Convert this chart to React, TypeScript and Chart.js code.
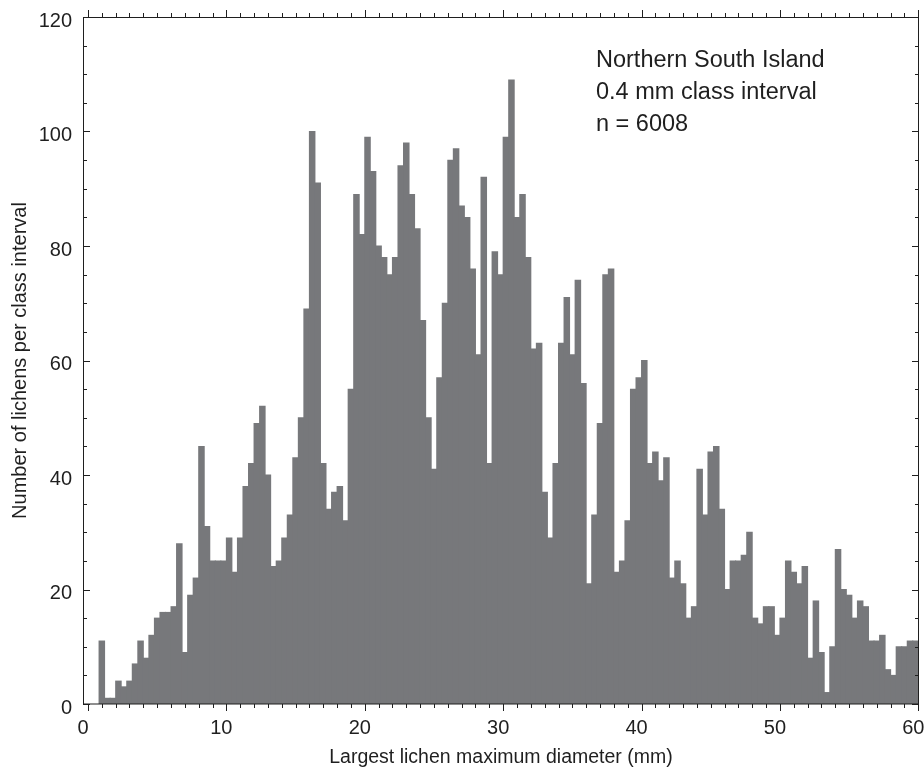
import { useEffect, useRef } from 'react'
import { Chart, registerables } from 'chart.js'

Chart.register(...registerables)

const FONT_FAMILY = '"Liberation Sans", Arial, Helvetica, sans-serif'
const BAR_COLOR = '#77787b'
const INK = '#1f1f1f'

// histogram classes (mm)
const CLASS_START = 0.8
const CLASS_INTERVAL = 0.4

// lichens per 0.4 mm class
const COUNTS = [
  11, 1, 1, 4, 3, 4, 7, 11, 8, 12,
  15, 16, 16, 17, 28, 9, 19, 22, 45, 31,
  25, 25, 25, 29, 23, 29, 38, 42, 49, 52,
  40, 24, 25, 29, 33, 43, 50, 69, 100, 91,
  42, 34, 37, 38, 32, 55, 89, 82, 99, 93,
  80, 78, 75, 78, 94, 98, 89, 83, 67, 50,
  41, 57, 70, 95, 97, 87, 85, 76, 61, 92,
  42, 79, 75, 99, 109, 85, 89, 78, 62, 63,
  37, 29, 42, 63, 71, 61, 74, 56, 21, 33,
  49, 75, 76, 23, 25, 32, 55, 57, 60, 42,
  44, 39, 43, 22, 25, 21, 15, 17, 41, 33,
  44, 45, 34, 20, 25, 25, 26, 30, 15, 14,
  17, 17, 12, 15, 25, 23, 21, 24, 8, 18,
  9, 2, 10, 27, 20, 19, 15, 18, 17, 11,
  11, 12, 6, 5, 10, 10, 11, 11,
]

const X_TICKS = [0, 10, 20, 30, 40, 50, 60]
const Y_TICKS = [0, 20, 40, 60, 80, 100, 120]
const X_MINOR_STEP = 1
const Y_MINOR_STEP = 5

const X_TITLE = 'Largest lichen maximum diameter (mm)'
const Y_TITLE = 'Number of lichens per class interval'
const NOTE_LINES = ['Northern South Island', '0.4 mm class interval', 'n = 6008']

const frameAndTicks = {
  id: 'frameAndTicks',
  afterDatasetsDraw(chart: any) {
    const { ctx, chartArea, scales } = chart
    const { left, right, top, bottom } = chartArea
    const x = scales.x
    const y = scales.y
    ctx.save()
    ctx.strokeStyle = INK
    ctx.lineWidth = 1
    ctx.beginPath()
    // x ticks point outward, top and bottom
    for (let v = X_TICKS[0]; v <= X_TICKS[X_TICKS.length - 1]; v += X_MINOR_STEP) {
      const px = Math.round(x.getPixelForValue(v)) + 0.5
      const len = v % 10 === 0 ? 7 : 4
      ctx.moveTo(px, bottom)
      ctx.lineTo(px, bottom + len)
      ctx.moveTo(px, top)
      ctx.lineTo(px, top - len)
    }
    // y ticks point inward, left and right
    for (let v = Y_TICKS[0]; v <= Y_TICKS[Y_TICKS.length - 1]; v += Y_MINOR_STEP) {
      const py = Math.round(y.getPixelForValue(v)) + 0.5
      const len = v % 20 === 0 ? 7 : 4
      ctx.moveTo(left, py)
      ctx.lineTo(left + len, py)
      ctx.moveTo(right, py)
      ctx.lineTo(right - len, py)
    }
    ctx.stroke()
    ctx.strokeRect(left + 0.5, top + 0.5, right - left - 1, bottom - top - 0.5)

    // annotation block
    ctx.fillStyle = INK
    ctx.font = `23.5px ${FONT_FAMILY}`
    ctx.textAlign = 'left'
    ctx.textBaseline = 'alphabetic'
    NOTE_LINES.forEach((line, i) => {
      ctx.fillText(line, 596, 67 + i * 32.2)
    })
    ctx.restore()
  },
}

export default function App() {
  const canvasRef = useRef<HTMLCanvasElement>(null)

  useEffect(() => {
    document.body.style.margin = '0'
    if (!canvasRef.current) return

    const chart = new Chart(canvasRef.current, {
      type: 'bar',
      data: {
        datasets: [
          {
            data: COUNTS.map((count, i) => ({ x: CLASS_START + CLASS_INTERVAL * (i + 0.5), y: count })),
            backgroundColor: BAR_COLOR,
            borderWidth: 0,
            inflateAmount: 0.5,
            barPercentage: 1,
            categoryPercentage: 1,
          },
        ],
      },
      options: {
        responsive: false,
        animation: false,
        events: [],
        layout: { padding: { top: 17, right: 5, bottom: 0, left: 0 } },
        plugins: {
          legend: { display: false },
          tooltip: { enabled: false },
        },
        scales: {
          x: {
            type: 'linear',
            min: -0.36,
            max: 60.05,
            offset: false,
            grid: { display: false, drawTicks: false },
            border: { display: false },
            ticks: {
              color: INK,
              font: { family: FONT_FAMILY, size: 20 },
              padding: 12,
              labelOffset: -5,
              maxRotation: 0,
            },
            title: {
              display: true,
              text: X_TITLE,
              color: INK,
              font: { family: FONT_FAMILY, size: 19.5 },
              padding: { top: 0, bottom: 0 },
            },
            afterBuildTicks: (scale: any) => {
              scale.ticks = X_TICKS.map((value) => ({ value }))
            },
            afterFit: (scale: any) => {
              scale.height = 65
              scale.paddingLeft = 0
              scale.paddingRight = 0
            },
          },
          y: {
            min: 0,
            max: 120,
            grid: { display: false, drawTicks: false },
            border: { display: false },
            ticks: {
              color: INK,
              font: { family: FONT_FAMILY, size: 20 },
              padding: 11,
              labelOffset: 4,
            },
            title: {
              display: true,
              text: Y_TITLE,
              color: INK,
              font: { family: FONT_FAMILY, size: 20 },
              padding: { top: 8, bottom: 0 },
            },
            afterBuildTicks: (scale: any) => {
              scale.ticks = Y_TICKS.map((value) => ({ value }))
            },
            afterFit: (scale: any) => {
              scale.width = 83
              scale.paddingTop = 0
              scale.paddingBottom = 0
            },
          },
        },
      },
      plugins: [frameAndTicks],
    })

    return () => {
      chart.destroy()
    }
  }, [])

  return (
    <div style={{ width: 924, height: 769, background: '#ffffff' }}>
      <canvas ref={canvasRef} width={924} height={769}></canvas>
    </div>
  )
}
